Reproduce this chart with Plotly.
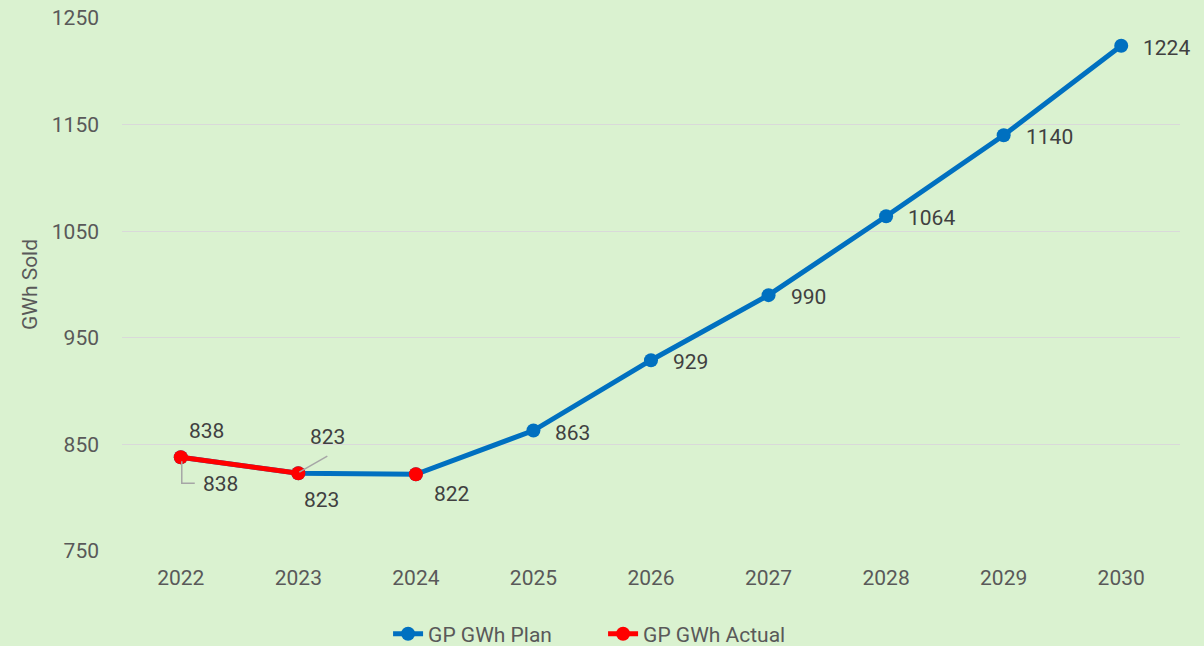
import plotly.graph_objects as go

years = [2022, 2023, 2024, 2025, 2026, 2027, 2028, 2029, 2030]
plan = [838, 823, 822, 863, 929, 990, 1064, 1140, 1224]
actual_years = [2022, 2023]
actual = [838, 823]
actual_extra_years = [2024]
actual_extra = [822]
y_ticks = [750, 850, 950, 1050, 1150, 1250]

BLUE = "#0070C0"
RED = "#FF0000"
BG = "#DAF2D0"
FONT = "Roboto, Open Sans, Liberation Sans, sans-serif"
LABEL_COLOR = "#404040"
TICK_COLOR = "#595959"
FS = 21

fig = go.Figure()
fig.add_trace(go.Scatter(
    x=years, y=plan, name="GP GWh Plan", mode="lines+markers",
    line=dict(color=BLUE, width=5), marker=dict(color=BLUE, size=14),
))
fig.add_trace(go.Scatter(
    x=actual_years, y=actual, name="GP GWh Actual", mode="lines+markers",
    line=dict(color=RED, width=5), marker=dict(color=RED, size=14),
))
fig.add_trace(go.Scatter(
    x=actual_extra_years, y=actual_extra, name="GP GWh Actual", mode="markers",
    marker=dict(color=RED, size=14), showlegend=False,
))

annotations = []
lab_font = dict(family=FONT, size=FS, color=LABEL_COLOR)
# plan labels (right of point) for 2025..2030
for yr, v in zip(years[3:], plan[3:]):
    annotations.append(dict(x=yr, y=v, xref="x", yref="y", text=str(v), showarrow=False,
                            xanchor="left", yanchor="middle", xshift=20, yshift=-2, font=lab_font))
# plan 2022 (below-right, elbow leader)
annotations.append(dict(x=years[0], y=plan[0], xref="x", yref="y", text=str(plan[0]), showarrow=False,
                        xanchor="center", yanchor="middle", xshift=40, yshift=-27, font=lab_font))
# plan 2023 (above-right, leader)
annotations.append(dict(x=years[1], y=plan[1], xref="x", yref="y", text=str(plan[1]), showarrow=False,
                        xanchor="center", yanchor="middle", xshift=29, yshift=36, font=lab_font))
# actual 2022 (above)
annotations.append(dict(x=actual_years[0], y=actual[0], xref="x", yref="y", text=str(actual[0]), showarrow=False,
                        xanchor="center", yanchor="middle", xshift=26, yshift=26, font=lab_font))
# actual 2023 (below)
annotations.append(dict(x=actual_years[1], y=actual[1], xref="x", yref="y", text=str(actual[1]), showarrow=False,
                        xanchor="center", yanchor="middle", xshift=23, yshift=-27, font=lab_font))
# actual 2024 (below-right)
annotations.append(dict(x=actual_extra_years[0], y=actual_extra[0], xref="x", yref="y", text=str(actual_extra[0]),
                        showarrow=False, xanchor="left", yanchor="middle", xshift=16, yshift=-20, font=lab_font))

shapes = [
    dict(type="path", xref="x", yref="y", xsizemode="pixel", ysizemode="pixel",
         xanchor=years[0], yanchor=plan[0], path="M1,-4 L1,-26 L14,-26",
         line=dict(color="#A6A6A6", width=1.5), layer="above"),
    dict(type="line", xref="x", yref="y", xsizemode="pixel", ysizemode="pixel",
         xanchor=years[1], yanchor=plan[1], x0=1, y0=1, x1=29, y1=17,
         line=dict(color="#A6A6A6", width=1.5), layer="above"),
]

fig.update_layout(
    width=1204, height=646,
    paper_bgcolor=BG, plot_bgcolor=BG,
    margin=dict(l=122, r=24, t=18, b=95, autoexpand=False),
    font=dict(family=FONT, size=FS, color=TICK_COLOR),
    showlegend=True,
    legend=dict(orientation="h", x=0.4547, xanchor="center", y=-0.156, yanchor="middle",
                font=dict(family=FONT, size=FS, color=TICK_COLOR), bgcolor="rgba(0,0,0,0)",
                traceorder="normal", entrywidth=170, entrywidthmode="pixels"),
    annotations=annotations,
    shapes=shapes,
    xaxis=dict(type="linear", range=[2021.5, 2030.5], tickmode="array", tickvals=years,
               ticktext=[str(y) for y in years], automargin=False,
               showgrid=False, zeroline=False, showline=False, ticks="",
               tickfont=dict(family=FONT, size=FS, color=TICK_COLOR), ticklabelstandoff=12),
    yaxis=dict(range=[750, 1250], tickvals=y_ticks, showgrid=True, gridcolor="#D9D9D9", gridwidth=1,
               zeroline=False, showline=False, ticks="", automargin=False,
               tickfont=dict(family=FONT, size=FS, color=TICK_COLOR), ticklabelstandoff=22,
               title=dict(text="GWh Sold", font=dict(family=FONT, size=FS, color=TICK_COLOR), standoff=8)),
)

fig.write_html("out.html", config={"displayModeBar": False},
               post_script="document.body.style.margin='0';")
